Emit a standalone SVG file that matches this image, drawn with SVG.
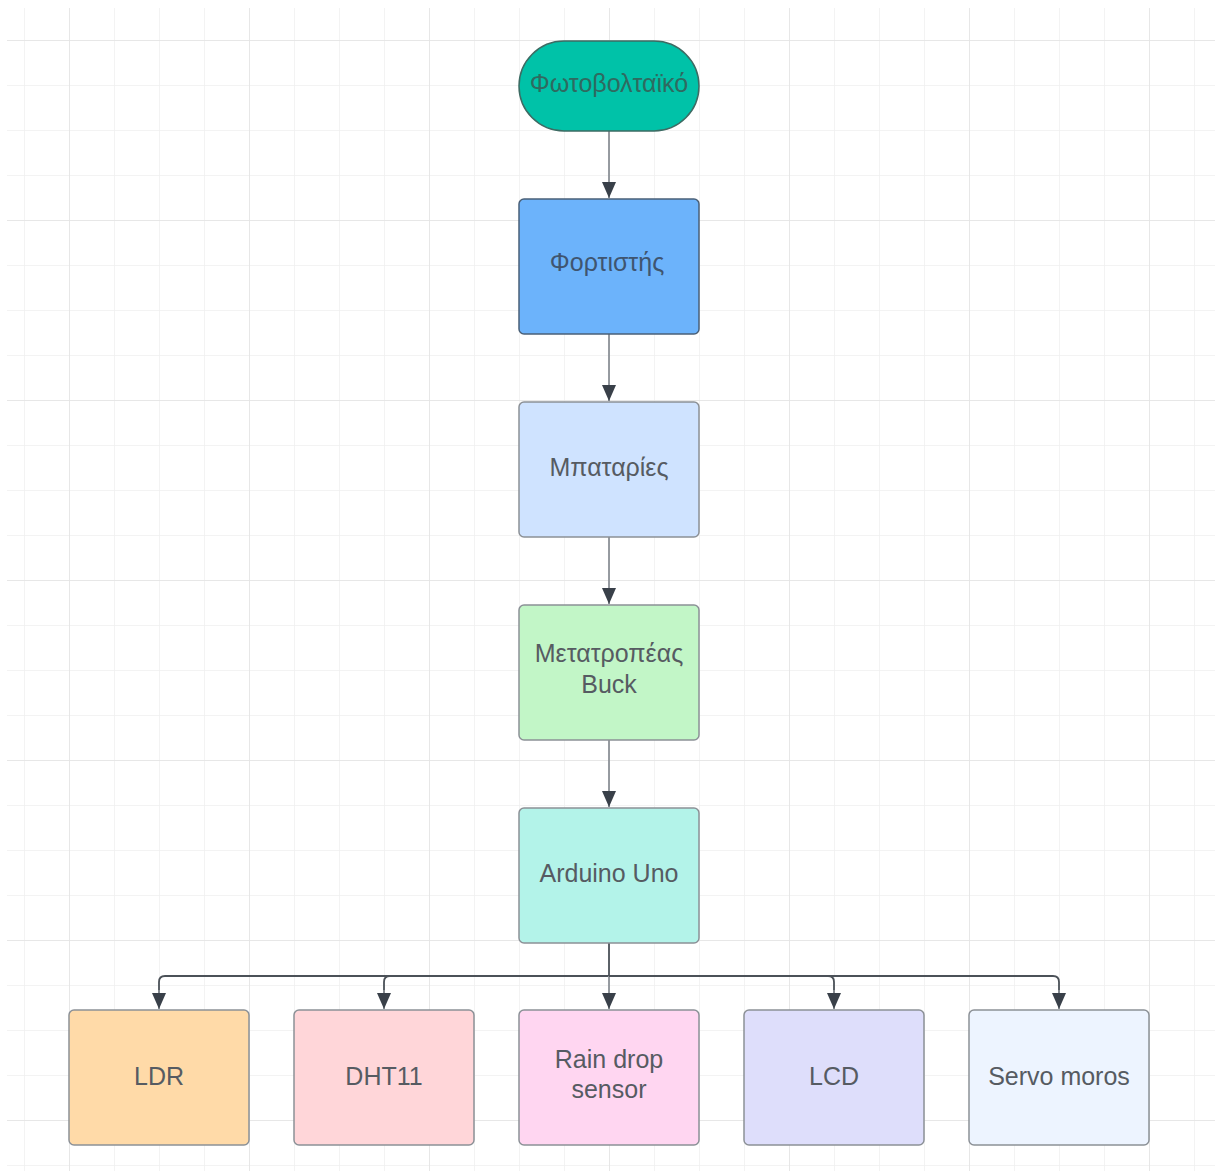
<svg xmlns="http://www.w3.org/2000/svg" width="1215" height="1171" viewBox="0 0 1215 1171">
<defs>
<pattern id="minor" x="24" y="40" width="45" height="45" patternUnits="userSpaceOnUse">
<path d="M0 0V45M0 0H45" fill="none" stroke="#efefef" stroke-width="1.5"/>
</pattern>
<pattern id="major" x="69" y="40" width="180" height="180" patternUnits="userSpaceOnUse">
<path d="M0 0V180M0 0H180" fill="none" stroke="#e4e4e4" stroke-width="1.5"/>
</pattern>
<marker id="arr" viewBox="0 0 16 14" refX="16" refY="7" markerWidth="16" markerHeight="14" markerUnits="userSpaceOnUse" orient="auto">
<path d="M0 0L16 7L0 14Z" fill="#394049"/>
</marker>
</defs>
<style>
.n{stroke:#8c9197;stroke-width:1.5}
.t{font-family:"Liberation Sans",Arial,sans-serif;font-size:25px;fill:#565b62;text-anchor:middle;dominant-baseline:central}
.c{fill:none;stroke:#8c9197;stroke-width:1.8}
.cd{fill:none;stroke:#4b5158;stroke-width:1.8}
</style>
<rect width="1215" height="1171" fill="#fff"/>
<rect x="7" y="8" width="1208" height="1163" fill="url(#minor)"/>
<rect x="7" y="8" width="1208" height="1163" fill="url(#major)"/>
<g id="connectors">
<path class="c" d="M609 131V198" marker-end="url(#arr)"/>
<path class="c" d="M609 334V401" marker-end="url(#arr)"/>
<path class="c" d="M609 537V604" marker-end="url(#arr)"/>
<path class="c" d="M609 740V807" marker-end="url(#arr)"/>
<path class="cd" d="M609 943V976"/>
<path class="cd" d="M609 976H165Q159 976 159 982V993"/>
<path class="c" d="M159 990V1009" marker-end="url(#arr)"/>
<path class="cd" d="M390 976Q384 976 384 982V993"/>
<path class="c" d="M384 990V1009" marker-end="url(#arr)"/>
<path class="c" d="M609 976V1009" marker-end="url(#arr)"/>
<path class="cd" d="M609 976H828Q834 976 834 982V993"/>
<path class="c" d="M834 990V1009" marker-end="url(#arr)"/>
<path class="cd" d="M828 976H1053Q1059 976 1059 982V993"/>
<path class="c" d="M1059 990V1009" marker-end="url(#arr)"/>
</g>
<g id="n1"><rect x="519" y="41" width="180" height="90" rx="45" fill="#00c2a8" stroke="#3d6b63" stroke-width="1.5"/><text class="t" x="609" y="83" style="fill:#2f6a60">Φωτοβολταϊκό</text></g>
<g id="n2"><rect class="n" x="519" y="199" width="180" height="135" rx="5" fill="#6cb3fb" style="stroke:#4a6078"/><text class="t" x="607" y="262" style="fill:#3f5570">Φορτιστής</text></g>
<g id="n3"><rect class="n" x="519" y="402" width="180" height="135" rx="5" fill="#cfe3ff"/><text class="t" x="609" y="467">Μπαταρίες</text></g>
<g id="n4"><rect class="n" x="519" y="605" width="180" height="135" rx="5" fill="#c2f6c7"/><text class="t" x="609" y="653">Μετατροπέας</text><text class="t" x="609" y="684">Buck</text></g>
<g id="n5"><rect class="n" x="519" y="808" width="180" height="135" rx="5" fill="#b3f3e9"/><text class="t" x="609" y="873">Arduino Uno</text></g>
<g id="n6"><rect class="n" x="69" y="1010" width="180" height="135" rx="5" fill="#ffdaa8"/><text class="t" x="159" y="1076">LDR</text></g>
<g id="n7"><rect class="n" x="294" y="1010" width="180" height="135" rx="5" fill="#ffd6d9"/><text class="t" x="384" y="1076">DHT11</text></g>
<g id="n8"><rect class="n" x="519" y="1010" width="180" height="135" rx="5" fill="#ffd6f1"/><text class="t" x="609" y="1059">Rain drop</text><text class="t" x="609" y="1089">sensor</text></g>
<g id="n9"><rect class="n" x="744" y="1010" width="180" height="135" rx="5" fill="#dedefb"/><text class="t" x="834" y="1076">LCD</text></g>
<g id="n10"><rect class="n" x="969" y="1010" width="180" height="135" rx="5" fill="#edf4ff"/><text class="t" x="1059" y="1076">Servo moros</text></g>
</svg>
